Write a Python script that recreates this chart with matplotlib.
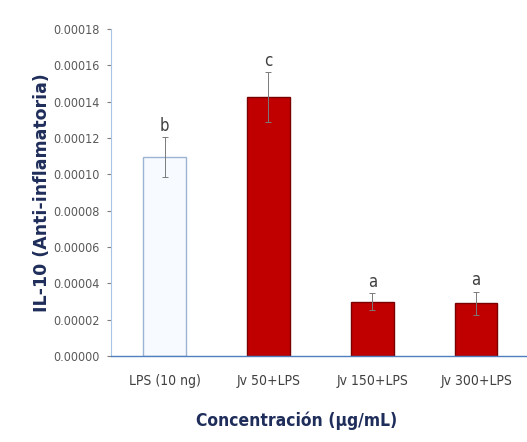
import matplotlib.pyplot as plt
import numpy as np

groups = ['LPS (10 ng)', 'Jv 50+LPS', 'Jv 150+LPS', 'Jv 300+LPS']
il10 = [0.0001094, 0.0001427, 0.0000299, 0.0000290]
il10_err = [0.0000110, 0.0000138, 0.0000046, 0.0000064]
letters = ['b', 'c', 'a', 'a']
yticks = np.arange(0, 0.00018 + 1e-9, 0.00002)

face = ['#f7fbff', '#c00000', '#c00000', '#c00000']
edge = ['#9db3d3', '#7a0000', '#7a0000', '#7a0000']
narrow = ['DejaVu Sans']

fig = plt.figure(figsize=(5.27, 4.42), dpi=100)
ax = fig.add_axes([0.211, 0.195, 0.789, 0.739])

x = np.arange(len(groups))
ax.bar(x, il10, width=0.41, color=face, edgecolor=edge, linewidth=1.0, zorder=2)
ax.errorbar(x, il10, yerr=il10_err, fmt='none', ecolor='#7a7a7a',
            elinewidth=0.7, capsize=2.5, capthick=0.7, zorder=3)

for xi, v, e, s in zip(x, il10, il10_err, letters):
    ax.text(xi, v + e + 0.0000012, s, ha='center', va='bottom',
            fontsize=12, color='#404040', family=narrow, stretch='condensed')

ax.set_xlim(-0.515, 3.49)
ax.set_ylim(0, 0.00018)
ax.set_yticks(yticks)
ax.set_yticklabels([f'{t:.5f}' for t in yticks], family=narrow, stretch='condensed',
                   fontsize=9, color='#595959')
ax.set_xticks(x)
ax.set_xticklabels(groups, family=narrow, stretch='condensed', fontsize=10,
                   color='#404040')
ax.tick_params(axis='x', length=0, pad=13)
ax.tick_params(axis='y', length=3, width=0.8, color='#7f7f7f', pad=5)

for side in ['top', 'right']:
    ax.spines[side].set_visible(False)
ax.spines['left'].set_color('#a9c4e4')
ax.spines['bottom'].set_color('#4f7fbf')
ax.spines['bottom'].set_linewidth(1.0)

ax.set_ylabel('IL-10 (Anti-inflamatoria)', fontsize=12.5, fontweight='bold',
              color='#1f2d5a', labelpad=2)
fig.text(0.562, 0.047, 'Concentración (µg/mL)', fontsize=12.5, fontweight='bold',
         color='#1f2d5a', family=narrow, stretch='condensed', ha='center', va='center')

fig.savefig('out.png', dpi=100)
